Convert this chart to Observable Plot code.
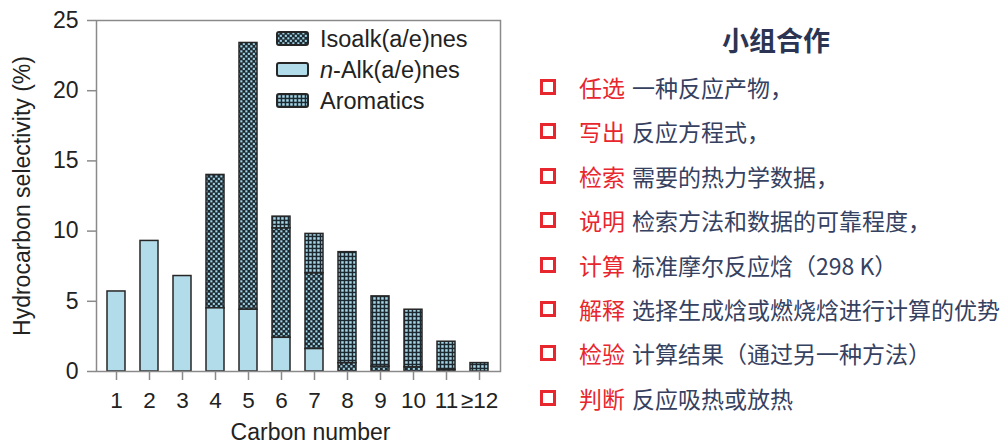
<!DOCTYPE html>
<html>
<head>
<meta charset="utf-8">
<script src="https://cdn.jsdelivr.net/npm/d3@7"></script>
<script src="https://cdn.jsdelivr.net/npm/@observablehq/plot@0.6"></script>
<style>
  body { margin: 0; background: #fff; }
  #page { position: relative; width: 1003px; height: 445px; overflow: hidden; font-family: "Liberation Sans", Arial, sans-serif; }
  #chart { position: absolute; left: 0; top: 0; }
  #legend { position: absolute; left: 0; top: 0; }
  #notes-title { position: absolute; left: 716px; top: 24px; width: 120px; text-align: center;
    font: 700 27px "Noto Sans CJK SC", sans-serif; color: #2b3553; line-height: 32px; }
  .note { position: absolute; left: 540px; height: 24px; display: flex; align-items: center;
    font: 400 23px "Noto Sans CJK SC", sans-serif; line-height: 24px; white-space: nowrap; }
  .note .box { width: 16px; height: 16px; box-sizing: border-box; border: 3.5px solid #e8262d; margin-right: 23px; flex: none; }
  .note .verb { color: #e8262d; }
  .note .rest { color: #36415f; margin-left: 7px; }
</style>
</head>
<body>
<div id="page">
  <div id="chart"></div>
  <svg id="legend" width="520" height="130"></svg>
  <div id="notes-title"></div>
  <div id="notes"></div>
</div>
<script>
// Carbon-number categories
const carbonNumbers = ["1", "2", "3", "4", "5", "6", "7", "8", "9", "10", "11", "≥12"];

// Product groups (legend order) and their selectivities (%)
const seriesNames = ["Isoalk(a/e)nes", "n-Alk(a/e)nes", "Aromatics"];
const isoalkanes = [0, 0, 0, 9.5, 19.0, 7.8, 5.4, 0.6, 0.35, 0.3, 0.12, 0];
const nAlkanes   = [5.7, 9.3, 6.8, 4.5, 4.4, 2.4, 1.6, 0, 0, 0, 0, 0];
const aromatics  = [0, 0, 0, 0, 0, 0.83, 2.8, 7.9, 5.0, 4.1, 2.0, 0.6];

const yTicks = [0, 5, 10, 15, 20, 25];
const xTitle = "Carbon number";
const yTitle = "Hydrocarbon selectivity (%)";

// Stacking order, bottom to top
const stackOrder = ["n-Alk(a/e)nes", "Isoalk(a/e)nes", "Aromatics"];

// Fills for each group: patterns for iso/aromatics, plain light blue for n-alkanes
const lightBlue = "#b3dcea";
const groupFills = ["url(#pat-iso)", lightBlue, "url(#pat-arom)"];

// Side notes
const noteTitle = "小组合作";
const noteVerbs = ["任选", "写出", "检索", "说明", "计算", "解释", "检验", "判断"];
const noteTexts = [
  "一种反应产物，",
  "反应方程式，",
  "需要的热力学数据，",
  "检索方法和数据的可靠程度，",
  "标准摩尔反应焓（298 K）",
  "选择生成焓或燃烧焓进行计算的优势",
  "计算结果（通过另一种方法）",
  "反应吸热或放热"
];

// Long-form table for the stacked bars
const seriesValues = [isoalkanes, nAlkanes, aromatics];
const rows = [];
seriesNames.forEach((s, k) => {
  carbonNumbers.forEach((c, i) => {
    const v = seriesValues[k][i];
    if (v > 0) rows.push({ carbon: c, series: s, value: v });
  });
});

// Hatch patterns used as fills
function patternDefs() {
  const defs = d3.create("svg:defs");
  const iso = defs.append("pattern").attr("id", "pat-iso")
    .attr("patternUnits", "userSpaceOnUse").attr("width", 5).attr("height", 5);
  iso.append("rect").attr("width", 5).attr("height", 5).attr("fill", "#1d2930");
  iso.append("rect").attr("x", 0.3).attr("y", 0.3).attr("width", 2.1).attr("height", 2.1).attr("fill", "#9fd2e4");
  iso.append("rect").attr("x", 2.8).attr("y", 2.8).attr("width", 2.1).attr("height", 2.1).attr("fill", "#9fd2e4");

  const arom = defs.append("pattern").attr("id", "pat-arom")
    .attr("patternUnits", "userSpaceOnUse").attr("width", 4).attr("height", 4);
  arom.append("rect").attr("width", 4).attr("height", 4).attr("fill", "#1d2930");
  arom.append("rect").attr("x", 1.2).attr("y", 1.2).attr("width", 2.5).attr("height", 2.5).attr("fill", "#a6d6e7");
  return defs.node();
}

const chart = Plot.plot({
  width: 520,
  height: 445,
  marginLeft: 96,
  marginRight: 20,
  marginTop: 20,
  marginBottom: 74,
  style: { fontFamily: "'Liberation Sans', Arial, sans-serif", fontSize: "23px", color: "#222", background: "transparent" },
  x: { domain: carbonNumbers, paddingInner: 0.44, paddingOuter: 0.22 },
  y: { domain: [0, 25] },
  color: { type: "ordinal", domain: seriesNames, range: groupFills },
  marks: [
    patternDefs,
    Plot.barY(rows, {
      x: "carbon",
      y: "value",
      fill: "series",
      order: stackOrder,
      stroke: "#262626",
      strokeWidth: 1.5
    }),
    Plot.frame({ stroke: "#8a8a8a", strokeWidth: 1.5 }),
    Plot.axisY({
      ticks: yTicks,
      tickSize: 9,
      tickPadding: 9,
      stroke: "#8a8a8a",
      strokeWidth: 1.5,
      fill: "#222",
      fontSize: 23,
      label: yTitle,
      labelAnchor: "center",
      labelArrow: "none",
      labelOffset: 83
    }),
    Plot.axisX({
      tickSize: 9,
      tickPadding: 12,
      stroke: "#8a8a8a",
      strokeWidth: 1.5,
      fill: "#222",
      fontSize: 22.5,
      label: null
    }),
    // x-axis title, set slightly right of the frame centre
    Plot.text([xTitle], {
      frameAnchor: "bottom",
      text: (d) => d,
      dx: 12,
      dy: 61,
      fontSize: 23,
      fill: "#222",
      lineAnchor: "middle"
    })
  ]
});
document.getElementById("chart").append(chart);

// Legend in the upper right of the plot frame (reuses the chart's patterns)
const legend = d3.select("#legend");
const items = legend.selectAll("g").data(seriesNames).join("g")
  .attr("transform", (d, i) => `translate(277, ${32 + i * 31})`);
items.append("rect")
  .attr("width", 31).attr("height", 13).attr("rx", 2)
  .attr("fill", (d, i) => groupFills[i])
  .attr("stroke", "#262626").attr("stroke-width", 2);
const labels = items.append("text")
  .attr("x", 43).attr("y", 6.5).attr("dy", "0.36em")
  .attr("font-size", 23.5).attr("fill", "#222")
  .attr("font-family", "'Liberation Sans', Arial, sans-serif");
labels.each(function (d) {
  const t = d3.select(this);
  if (d.startsWith("n-")) {
    t.append("tspan").attr("font-style", "italic").text("n");
    t.append("tspan").text(d.slice(1));
  } else {
    t.text(d);
  }
});

// Side notes
document.getElementById("notes-title").textContent = noteTitle;
const notes = d3.select("#notes");
noteVerbs.forEach((verb, i) => {
  const row = notes.append("div").attr("class", "note").style("top", `${75 + i * 44.4}px`);
  row.append("span").attr("class", "box");
  row.append("span").attr("class", "verb").text(verb);
  row.append("span").attr("class", "rest").text(noteTexts[i]);
});
</script>
</body>
</html>
